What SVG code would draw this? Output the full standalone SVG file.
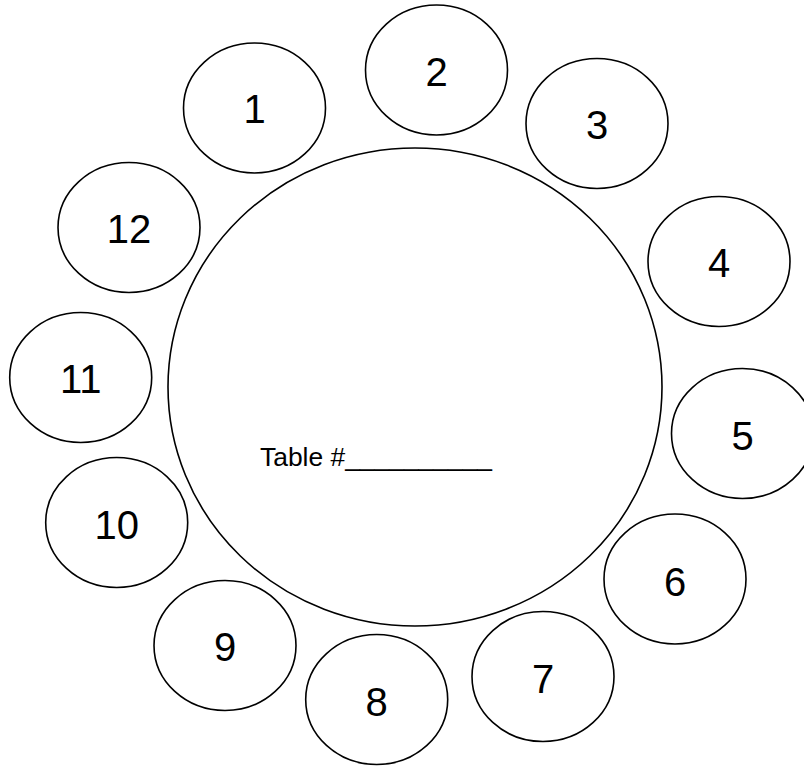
<svg xmlns="http://www.w3.org/2000/svg" width="804" height="767" viewBox="0 0 804 767">
<style>
.c{fill:none;stroke:#000;stroke-width:1.6}
.n{font-family:"Liberation Sans",Arial,sans-serif;font-size:40px;fill:#000;text-anchor:middle}
.t{font-family:"Liberation Sans",Arial,sans-serif;font-size:25px;fill:#000}
</style>
<rect width="804" height="767" fill="#fff"/>
<g id="table">
<ellipse class="c" cx="415" cy="387" rx="247" ry="239"/>
<text class="t" x="260" y="466" textLength="232" lengthAdjust="spacingAndGlyphs">Table #__________</text>
</g>
<g id="seat1"><ellipse class="c" cx="254.5" cy="108" rx="71" ry="65"/><text class="n" x="254.5" y="123">1</text></g>
<g id="seat2"><ellipse class="c" cx="436.5" cy="70" rx="71" ry="65"/><text class="n" x="436.5" y="86">2</text></g>
<g id="seat3"><ellipse class="c" cx="597" cy="123.5" rx="71" ry="65"/><text class="n" x="597" y="139">3</text></g>
<g id="seat4"><ellipse class="c" cx="719" cy="261.5" rx="71" ry="65"/><text class="n" x="719" y="277">4</text></g>
<g id="seat5"><ellipse class="c" cx="742.5" cy="433.5" rx="71" ry="65"/><text class="n" x="742.5" y="450">5</text></g>
<g id="seat6"><ellipse class="c" cx="675" cy="579" rx="71" ry="65"/><text class="n" x="675" y="596">6</text></g>
<g id="seat7"><ellipse class="c" cx="543" cy="676.5" rx="71" ry="65"/><text class="n" x="543" y="693">7</text></g>
<g id="seat8"><ellipse class="c" cx="376.7" cy="699.5" rx="71" ry="65"/><text class="n" x="376.7" y="716">8</text></g>
<g id="seat9"><ellipse class="c" cx="225" cy="645.5" rx="71" ry="65"/><text class="n" x="225" y="661">9</text></g>
<g id="seat10"><ellipse class="c" cx="116.7" cy="522.5" rx="71" ry="65"/><text class="n" x="116.7" y="539">10</text></g>
<g id="seat11"><ellipse class="c" cx="80.7" cy="377.5" rx="71" ry="65"/><text class="n" x="80.7" y="393">11</text></g>
<g id="seat12"><ellipse class="c" cx="129" cy="227.5" rx="71" ry="65"/><text class="n" x="129" y="243">12</text></g>
<g id="connectors"/>
</svg>
